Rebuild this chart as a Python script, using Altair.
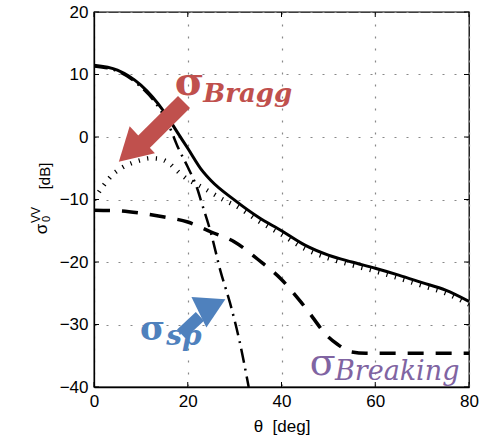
import altair as alt
import pandas as pd

# ---- data ----
theta_total = [0, 5, 10, 15, 18, 20, 23, 25, 30, 35, 40, 45, 50, 55, 60, 65, 70, 75, 80]
total = [11.5, 10.7, 8.3, 4.0, 0.5, -1.8, -5.3, -7.0, -10.1, -12.8, -15.0, -17.3, -18.9, -20.0, -21.0, -22.1, -23.3, -24.5, -26.3]

theta_bragg = [0, 2, 4, 6, 8, 10, 12, 14, 16, 18, 20, 22, 25, 28, 30, 35, 40, 45, 50, 55, 60, 65, 70, 75, 80]
bragg = [-10.0, -7.8, -6.0, -4.9, -4.2, -3.7, -3.4, -3.5, -4.2, -5.6, -6.8, -7.6, -8.9, -10.2, -10.9, -13.4, -15.6, -17.9, -19.4, -20.5, -21.5, -22.6, -23.8, -25.0, -26.8]

theta_sp = [0, 5, 10, 14, 16, 18, 20, 22, 23, 25, 27, 29, 31, 33]
sp = [11.3, 10.5, 8.0, 4.5, 1.8, -1.8, -4.8, -8.2, -10.6, -15.5, -21.5, -26.5, -32.5, -40.0]

theta_brk = [0, 5, 10, 15, 20, 25, 30, 35, 40, 45, 50, 52, 55, 58, 60, 70, 80]
breaking = [-11.7, -11.8, -12.2, -12.8, -13.6, -15.2, -16.8, -19.6, -22.8, -27.2, -32.0, -33.2, -34.4, -34.6, -34.6, -34.6, -34.6]

x_ticks = [0, 20, 40, 60, 80]
y_ticks = [-40, -30, -20, -10, 0, 10, 20]

# annotation arrows (data coords): tail, shaft end, head centre
arrow_names = ["bragg", "sp"]
arrow_x = [19.2, 18.6]
arrow_y = [5.6, -31.5]
arrow_x2 = [9.8, 22.6]
arrow_y2 = [-1.4, -28.7]
head_x = [7.8, 25.2]
head_y = [-2.2, -27.0]

RED = "#C0504D"
BLUE = "#4F81BD"
PURPLE = "#8064A2"

W = 375
H = 375
xs = alt.Scale(domain=[0, 80], nice=False)
ys = alt.Scale(domain=[-40, 20], nice=False)

def line_layer(th, vals, **mk):
    df = pd.DataFrame({"theta": th, "v": vals})
    return alt.Chart(df).mark_line(clip=True, interpolate="monotone", color="black", **mk).encode(
        x=alt.X("theta:Q", scale=xs,
                axis=alt.Axis(values=x_ticks, title="θ\u00a0\u00a0[deg]", grid=True, labelFlush=False)),
        y=alt.Y("v:Q", scale=ys, axis=alt.Axis(values=y_ticks, title="", grid=True, labelFlush=False)),
    )

l_bragg = line_layer(theta_bragg, bragg, strokeWidth=4.5, strokeDash=[1.2, 7.5], strokeCap="butt")
l_brk = line_layer(theta_brk, breaking, strokeWidth=3.5, strokeDash=[16, 12], strokeCap="butt")
l_sp = line_layer(theta_sp, sp, strokeWidth=2.5, strokeDash=[14, 6, 2, 6], strokeCap="butt")
l_total = line_layer(theta_total, total, strokeWidth=3)

# inward tick marks on all four sides
xt = pd.DataFrame({"x": x_ticks})
yt = pd.DataFrame({"y": y_ticks})
tick_bot = alt.Chart(xt).mark_rule(color="black", strokeWidth=1).encode(
    x=alt.X("x:Q", scale=xs), y=alt.value(H), y2=alt.value(H - 5))
tick_top = alt.Chart(xt).mark_rule(color="black", strokeWidth=1).encode(
    x=alt.X("x:Q", scale=xs), y=alt.value(0), y2=alt.value(5))
tick_left = alt.Chart(yt).mark_rule(color="black", strokeWidth=1).encode(
    y=alt.Y("y:Q", scale=ys), x=alt.value(0), x2=alt.value(5))
tick_right = alt.Chart(yt).mark_rule(color="black", strokeWidth=1).encode(
    y=alt.Y("y:Q", scale=ys), x=alt.value(W), x2=alt.value(W - 5))

adf = pd.DataFrame({"name": arrow_names, "x": arrow_x, "y": arrow_y, "x2": arrow_x2, "y2": arrow_y2,
                    "hx": head_x, "hy": head_y})

shaft_red = alt.Chart(adf[adf.name == "bragg"]).mark_rule(strokeWidth=17, strokeCap="butt", color=RED).encode(
    x=alt.X("x:Q", scale=xs), y=alt.Y("y:Q", scale=ys), x2="x2:Q", y2="y2:Q")
shaft_blue = alt.Chart(adf[adf.name == "sp"]).mark_rule(strokeWidth=12, strokeCap="butt", color=BLUE).encode(
    x=alt.X("x:Q", scale=xs), y=alt.Y("y:Q", scale=ys), x2="x2:Q", y2="y2:Q")
head_red = alt.Chart(adf[adf.name == "bragg"]).mark_point(shape="triangle-up", filled=True, opacity=1,
                                                          size=1369, angle=227, color=RED).encode(
    x=alt.X("hx:Q", scale=xs), y=alt.Y("hy:Q", scale=ys))
head_blue = alt.Chart(adf[adf.name == "sp"]).mark_point(shape="triangle-up", filled=True, opacity=1,
                                                        size=1156, angle=64, color=BLUE).encode(
    x=alt.X("hx:Q", scale=xs), y=alt.Y("hy:Q", scale=ys))

# annotation labels
lab_text = ["σ", "Bragg", "σ", "sp", "σ", "Breaking"]
lab_x = [17.2, 23.3, 9.8, 15.4, 46.0, 51.4]
lab_y = [6.8, 5.6, -32.5, -33.3, -38.1, -38.9]
lab_size = [40, 26, 34, 28, 38, 27]
lab_weight = ["bold", "bold", "bold", "bold", "normal", "normal"]
lab_style = ["normal", "italic", "normal", "italic", "normal", "italic"]
lab_col = [RED, RED, BLUE, BLUE, PURPLE, PURPLE]

labels = []
for t, x, y, s, w, st, c in zip(lab_text, lab_x, lab_y, lab_size, lab_weight, lab_style, lab_col):
    d = pd.DataFrame({"t": [t], "x": [x], "y": [y]})
    labels.append(alt.Chart(d).mark_text(align="left", baseline="alphabetic", font="DejaVu Serif",
                                         fontSize=s, fontWeight=w, fontStyle=st, color=c).encode(
        x=alt.X("x:Q", scale=xs), y=alt.Y("y:Q", scale=ys), text="t:N"))

# rotated y-axis title pieces
yt_text = ["σ", "0", "VV", "[dB]"]
yt_px = [-52, -47, -58, -49]
yt_py = [217, 207, 203, 164]
yt_size = [17, 11, 12, 15]
ytitle = []
for t, px, py, s in zip(yt_text, yt_px, yt_py, yt_size):
    d = pd.DataFrame({"t": [t]})
    ytitle.append(alt.Chart(d).mark_text(angle=270, align="center", baseline="middle",
                                         font="Liberation Sans", fontSize=s, color="black").encode(
        x=alt.value(px), y=alt.value(py), text="t:N"))

chart = alt.layer(
    l_bragg, l_brk, l_sp, l_total,
    tick_bot, tick_top, tick_left, tick_right,
    shaft_red, head_red, shaft_blue, head_blue,
    *labels, *ytitle
).properties(
    width=W, height=H,
    autosize=alt.AutoSizeParams(type="none"),
    padding={"left": 94, "top": 12, "right": 17, "bottom": 57},
).configure_view(
    stroke="black", strokeWidth=1.3
).configure_axis(
    domainColor="black", domainWidth=1.3,
    ticks=False,
    labelFont="Liberation Sans", labelFontSize=17, labelColor="black", labelPadding=6,
    titleFont="Liberation Sans", titleFontSize=17, titleFontWeight="normal", titleColor="black",
    titlePadding=9,
    gridColor="#888888", gridDash=[2, 10], gridWidth=1.2,
)

chart.save("out.html", embed_options={"renderer": "svg", "actions": False})
